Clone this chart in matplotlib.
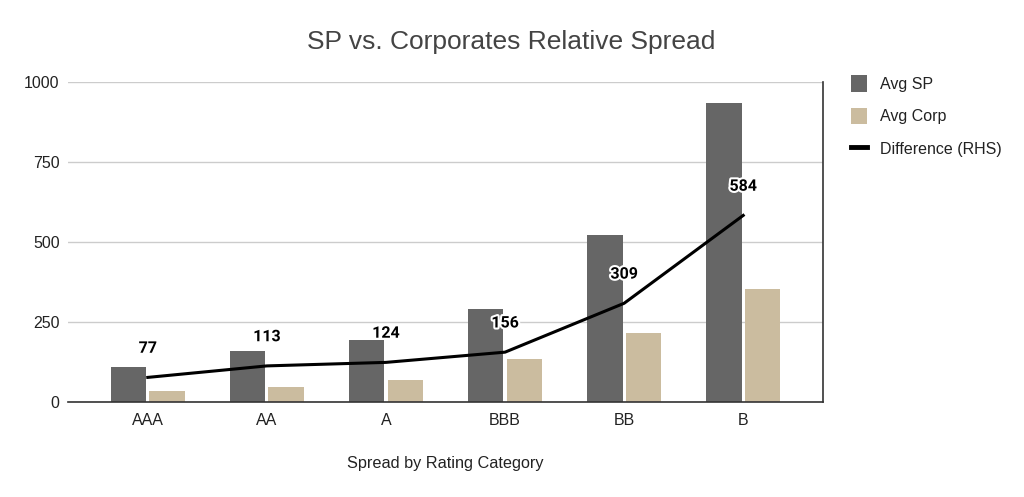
import matplotlib
matplotlib.use("Agg")
import matplotlib.pyplot as plt
import matplotlib.patheffects as pe
from matplotlib.patches import Patch
from matplotlib.lines import Line2D
import numpy as np

categories = ["AAA", "AA", "A", "BBB", "BB", "B"]
avg_sp = [111, 160, 193, 290, 524, 937]
avg_corp = [34, 47, 69, 134, 215, 353]
difference = [77, 113, 124, 156, 309, 584]
yticks = [0, 250, 500, 750, 1000]

plt.rcParams['font.family'] = ['Liberation Sans', 'DejaVu Sans']

fig = plt.figure(figsize=(10.24, 4.97), dpi=100)
W, H = 1024, 497
left, right, top, bottom = 68, 823, 82.5, 402
ax = fig.add_axes([left / W, 1 - bottom / H, (right - left) / W, (bottom - top) / H])

x = np.arange(len(categories))
bw = 0.30
off = 0.163
ax.bar(x - off, avg_sp, width=bw, color="#666666", zorder=2)
ax.bar(x + off, avg_corp, width=bw, color="#cbbc9f", zorder=2)

ax2 = ax.twinx()
ax2.plot(x, difference, color="black", lw=2.2, zorder=3)
for xi, v in zip(x, difference):
    ax2.annotate(str(v), (xi, v), xytext=(0, 21), textcoords="offset points",
                 ha="center", va="center", fontsize=11.5, fontweight="bold",
                 family=["Roboto", "DejaVu Sans"], color="black",
                 path_effects=[pe.withStroke(linewidth=3, foreground="white")])

for a in (ax, ax2):
    a.set_ylim(0, 1000)
    a.set_xlim(-0.67, 5.67)
ax2.set_yticks([])
ax.set_yticks(yticks)
ax.set_yticklabels([str(t) for t in yticks], fontsize=11.5, color="#222222")
ax.set_xticks(x)
ax.set_xticklabels(categories, fontsize=11.5, color="#222222")
ax.tick_params(axis="x", length=0, pad=8)
ax.tick_params(axis="y", length=0, pad=6)
ax.grid(axis="y", color="#cccccc", lw=1, zorder=0)
ax.set_axisbelow(True)

for a in (ax, ax2):
    for s in ("top", "left", "right", "bottom"):
        a.spines[s].set_visible(False)
ax2.spines["right"].set_visible(True)
ax2.spines["right"].set_color("#333333")
ax2.spines["right"].set_linewidth(1.2)
ax.spines["bottom"].set_visible(True)
ax.spines["bottom"].set_color("#333333")
ax.spines["bottom"].set_linewidth(1.2)

ax.set_xlabel("Spread by Rating Category", fontsize=11.7, color="#222222", labelpad=20)
fig.text(511 / W, 1 - 42 / H, "SP vs. Corporates Relative Spread", ha="center", va="center",
         fontsize=19, color="#444444")

handles = [Patch(facecolor="#666666", edgecolor="none"),
           Patch(facecolor="#cbbc9f", edgecolor="none"),
           Line2D([0], [0], color="black", lw=3.5)]
labels = ["Avg SP", "Avg Corp", "Difference (RHS)"]
fig.legend(handles, labels, loc="upper left", bbox_to_anchor=(837 / W, 1 - 61 / H),
           frameon=False, fontsize=11.5, handlelength=1.0, handleheight=1.2,
           handletextpad=0.8, labelspacing=1.0, labelcolor="#222222")

fig.savefig("out.png", dpi=100)
